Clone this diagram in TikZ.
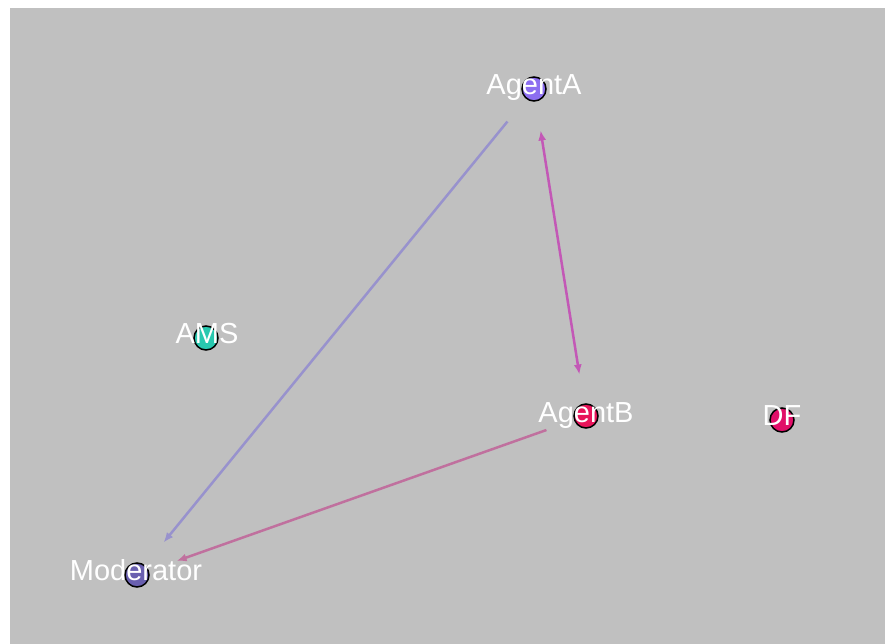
\documentclass[tikz,border=0pt]{standalone}
\usepackage{fontspec}
\setmainfont{Liberation Sans}
\usetikzlibrary{arrows.meta}

\definecolor{bggrey}{RGB}{192,192,192}
\definecolor{agentafill}{RGB}{140,110,240}
\definecolor{agentbfill}{RGB}{232,20,90}
\definecolor{amsfill}{RGB}{40,200,175}
\definecolor{dffill}{RGB}{225,15,105}
\definecolor{modfill}{RGB}{105,95,175}
\definecolor{lavenderline}{RGB}{152,146,205}
\definecolor{orchidline}{RGB}{195,88,182}
\definecolor{roseline}{RGB}{192,112,158}

\begin{document}
\begin{tikzpicture}[x=1pt, y=-1pt,
  agent/.style={circle, draw=black, line width=1.5pt, minimum size=24pt, inner sep=0pt},
  agentname/.style={text=white, font=\fontsize{29}{29}\selectfont, anchor=base, inner sep=0pt},
  msg/.style={line width=2.5pt, shorten >=42pt, shorten <=42pt},
  tip/.tip={Latex[length=10pt, width=8pt]}]

% canvas
\useasboundingbox (0, 0) rectangle (885, 644);
\fill[bggrey] (10, 8) rectangle (885, 644);

% agents
\node[agent, fill=agentafill] (AgentA) at (534, 89) {};
\node[agent, fill=agentbfill] (AgentB) at (586, 416) {};
\node[agent, fill=amsfill] (AMS) at (206, 338) {};
\node[agent, fill=dffill] (DF) at (782, 420) {};
\node[agent, fill=modfill] (Moderator) at (137, 575) {};

% messages
\draw[msg, lavenderline, -tip] (AgentA.center) -- (Moderator.center);
\draw[msg, orchidline, tip-tip] (AgentA.center) -- (AgentB.center);
\draw[msg, roseline, -tip] (AgentB.center) -- (Moderator.center);

% names
\node[agentname] (AgentA-name) at (534, 95) {AgentA};
\node[agentname] (AgentB-name) at (586, 422) {AgentB};
\node[agentname] (AMS-name) at (207, 343) {AMS};
\node[agentname] (DF-name) at (782, 425) {DF};
\node[agentname] (Moderator-name) at (136, 580) {Moderator};

\end{tikzpicture}
\end{document}
